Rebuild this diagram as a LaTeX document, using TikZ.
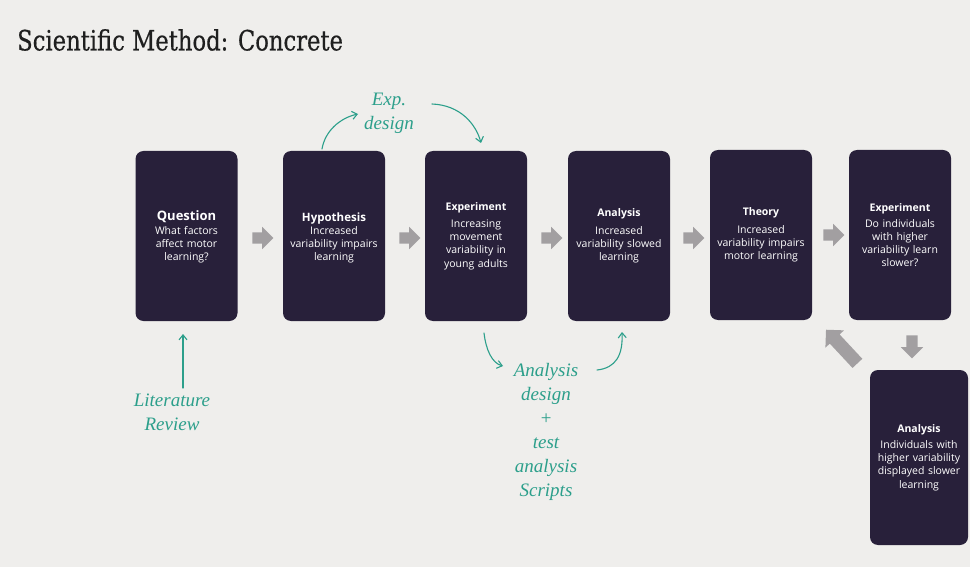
\documentclass[tikz,border=0pt]{standalone}
\usepackage{fontspec}
\setmainfont{Open Sans}
\newfontfamily\titlefont[FakeBold=0.5]{DejaVu Serif}
\newfontfamily\penfont{Liberation Serif}
\usetikzlibrary{shapes.arrows,arrows.meta}

\definecolor{paper}{HTML}{EFEEEC}
\definecolor{cardfill}{HTML}{28203A}
\definecolor{pen}{HTML}{2C9F8B}
\definecolor{flow}{HTML}{A29FA1}

% heading line inside a card
\newcommand{\cardheadfont}{\bfseries\fontsize{10.5}{14}\selectfont}

\begin{document}
\begin{tikzpicture}[x=1pt,y=-1pt,
  card/.style={fill=cardfill, rounded corners=8pt, minimum width=102pt,
    minimum height=170pt, inner sep=0pt},
  cardtext/.style={text=white, align=center, text width=100pt,
    font=\fontsize{10.5}{13.2}\selectfont},
  blockarrow/.style={single arrow, fill=flow, draw=none, inner xsep=0pt,
    inner ysep=5.5pt, minimum height=21pt,
    single arrow head extend=5.5pt},
  ink/.style={draw=pen, line width=1.1pt, line cap=round,
    -{Straight Barb[length=5pt,width=8pt]}},
  note/.style={text=pen, align=center, inner sep=0pt,
    font=\penfont\itshape\fontsize{19}{24}\selectfont}
]
% page
\fill[paper] (0,0) rectangle (970,567);
\useasboundingbox (0,0) rectangle (970,567);

% heading
\node[anchor=west, inner sep=0pt, text=black!88] (title) at (17,40)
  {\scalebox{0.81}[1]{\titlefont\fontsize{28}{32}\selectfont Scientific Method: Concrete}};

% cards
\node[card] (q)  at (186.5,236) {};
\node[card] (h)  at (334,236) {};
\node[card] (e1) at (476,236) {};
\node[card] (a1) at (619,236) {};
\node[card] (t)  at (761,235) {};
\node[card] (e2) at (900,235) {};
\node[card, minimum width=98pt, minimum height=175pt] (a2) at (919,457.5) {};

\node[cardtext] at ([yshift=-1]q) {{\bfseries\fontsize{13}{15}\selectfont Question}\\What factors\\affect motor\\learning?};
\node[cardtext] at ([yshift=-2]h) {{\bfseries\fontsize{11.5}{14}\selectfont Hypothesis}\\Increased\\variability impairs\\learning};
\node[cardtext] at (e1) {{\cardheadfont Experiment}\\[4pt]Increasing\\movement\\variability in\\young adults};
\node[cardtext] at (a1) {{\cardheadfont Analysis}\\[4pt]Increased\\variability slowed\\learning};
\node[cardtext] at (t)  {{\cardheadfont Theory}\\[4pt]Increased\\variability impairs\\motor learning};
\node[cardtext] at (e2) {{\cardheadfont Experiment}\\[3pt]Do individuals\\with higher\\variability learn\\slower?};
\node[cardtext] at (a2) {{\cardheadfont Analysis}\\[3pt]Individuals with\\higher variability\\displayed slower\\learning};

% grey flow arrows between the cards
\node[blockarrow] (f1) at (260,238) {};
\node[blockarrow] (f2) at (407,238) {};
\node[blockarrow] (f3) at (549,238) {};
\node[blockarrow] (f4) at (691,238) {};
\node[blockarrow] (f5) at (831,235) {};
\node[blockarrow, rotate=-90, minimum height=23pt] (f6) at (912,344) {};
\node[blockarrow, rotate=133, minimum height=46pt, inner ysep=6.5pt,
  single arrow head extend=6pt] (f7) at (844,349) {};

% pen notes
\node[note] (lit) at (172,412) {Literature\\Review};
\node[note, anchor=north west] (exp) at (364,93) {Exp.\\[0pt]design};
\node[note, anchor=north] (ana) at (546,363) {Analysis\\design\\+\\test\\analysis\\Scripts};

\coordinate (litTop) at (183,388);
\coordinate (qBelow) at (183,334);
\coordinate (hTop)  at (322,149);
\coordinate (expL)  at (358,114);
\coordinate (expR)  at (432,104);
\coordinate (eTop)  at (481,143);
\coordinate (eBelow) at (484,333);
\coordinate (anaL)  at (503,366);
\coordinate (anaR)  at (597,370);
\coordinate (aBelow) at (622,332);

\draw[ink] (litTop) -- (qBelow);
\draw[ink] (hTop) .. controls (325,131) and (340,118) .. (expL);
\draw[ink] (expR) .. controls (460,105) and (476,124) .. (eTop);
\draw[ink] (eBelow) .. controls (486,350) and (492,363) .. (anaL);
\draw[ink] (anaR) .. controls (616,368) and (623,355) .. (aBelow);
\end{tikzpicture}
\end{document}
